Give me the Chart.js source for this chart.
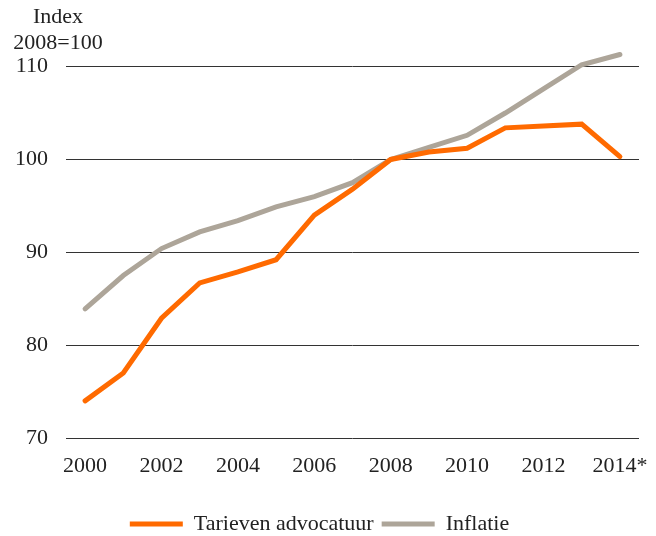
<!DOCTYPE html>
<html>
<head>
<meta charset="utf-8">
<script src="https://cdn.jsdelivr.net/npm/chart.js@4/dist/chart.umd.min.js"></script>
<style>
  html, body { margin: 0; padding: 0; background: #fff; }
  #wrap { width: 656px; height: 536px; }
</style>
</head>
<body>
<div id="wrap"><canvas id="c" width="656" height="536"></canvas></div>
<script>
const years = ['2000','2001','2002','2003','2004','2005','2006','2007','2008','2009','2010','2011','2012','2013','2014*'];
const tarieven = [74.0, 77.0, 82.9, 86.7, 87.9, 89.2, 94.0, 96.8, 100.0, 100.8, 101.2, 103.4, 103.6, 103.8, 100.3];
const inflatie = [83.9, 87.5, 90.4, 92.2, 93.4, 94.9, 96.0, 97.5, 100.0, 101.3, 102.6, 105.0, 107.6, 110.2, 111.3];
const yTicks = [70, 80, 90, 100, 110];
const axisTitle = ['Index', '2008=100'];

const FONT = '"Liberation Serif", "Times New Roman", serif';
const TXT = '#222';

const titlePlugin = {
  id: 'axisTitle',
  afterDraw(chart) {
    const ctx = chart.ctx;
    ctx.save();
    ctx.fillStyle = TXT;
    ctx.font = '22px ' + FONT;
    ctx.textAlign = 'center';
    ctx.textBaseline = 'middle';
    const cx = 58;
    ctx.fillText(axisTitle[0], cx, 17);
    ctx.fillText(axisTitle[1], cx, 43);
    ctx.restore();
  }
};

new Chart(document.getElementById('c'), {
  type: 'line',
  data: {
    labels: years,
    datasets: [
      {
        label: 'Tarieven advocatuur',
        data: tarieven,
        borderColor: '#FF6A00',
        backgroundColor: '#FF6A00',
        borderWidth: 5,
        borderCapStyle: 'round',
        borderJoinStyle: 'miter',
        pointRadius: 0,
        tension: 0,
        order: 1
      },
      {
        label: 'Inflatie',
        data: inflatie,
        borderColor: '#ADA599',
        backgroundColor: '#ADA599',
        borderWidth: 5,
        borderCapStyle: 'round',
        borderJoinStyle: 'miter',
        pointRadius: 0,
        tension: 0,
        order: 2
      }
    ]
  },
  options: {
    responsive: false,
    animation: false,
    devicePixelRatio: 1,
    layout: { padding: { top: 48, right: 17, left: 0, bottom: -9 } },
    plugins: {
      tooltip: { enabled: false },
      title: { display: false },
      legend: {
        position: 'bottom',
        labels: {
          color: TXT,
          font: { family: FONT, size: 22 },
          usePointStyle: true,
          pointStyle: 'line',
          pointStyleWidth: 53,
          boxWidth: 42,
          boxHeight: 5,
          padding: 8
        }
      }
    },
    scales: {
      x: {
        type: 'category',
        offset: true,
        grid: { display: false },
        border: { display: false },
        afterFit(scale) { scale.height = 67; },
        ticks: {
          color: TXT,
          font: { family: FONT, size: 22 },
          padding: 7,
          autoSkip: false,
          maxRotation: 0,
          callback: function(v, i) { return i % 2 === 0 ? this.getLabelForValue(v) : ''; }
        }
      },
      y: {
        min: 70,
        max: 112,
        afterBuildTicks(scale) { scale.ticks = yTicks.map(v => ({ value: v })); },
        afterFit(scale) { scale.width = 66; },
        grid: { color: '#333', lineWidth: 1, drawTicks: false },
        border: { display: false },
        ticks: {
          color: TXT,
          font: { family: FONT, size: 22 },
          padding: 18
        }
      }
    }
  },
  plugins: [titlePlugin]
});
</script>
</body>
</html>
